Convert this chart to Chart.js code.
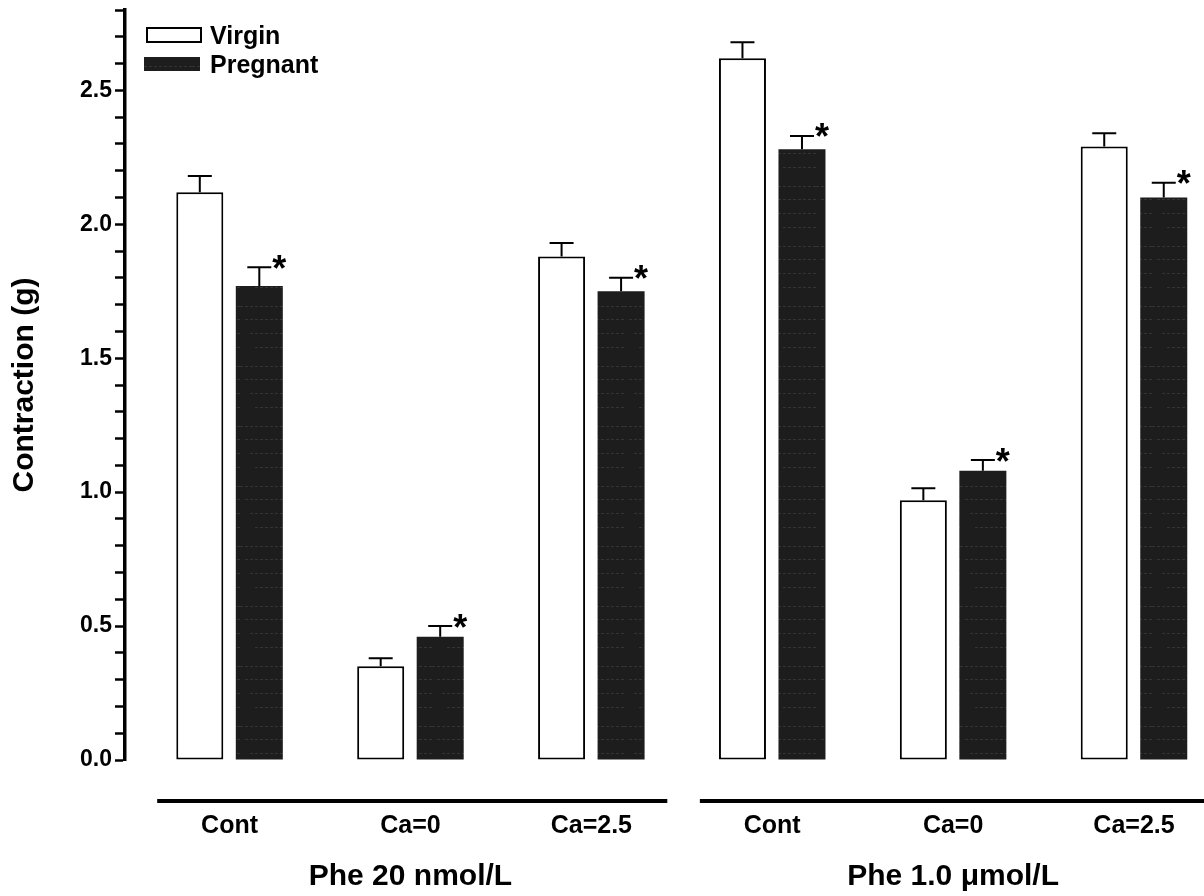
<!DOCTYPE html>
<html>
<head>
<meta charset="utf-8">
<script src="https://cdn.jsdelivr.net/npm/chart.js@4"></script>
<style>
  html, body { margin: 0; padding: 0; background: #fff; overflow: hidden; }
  #wrap { position: relative; width: 1204px; height: 896px; }
</style>
</head>
<body>
<div id="wrap"><canvas id="contractionChart"></canvas></div>
<script>
// 그룹 / 값
const categories = ['Cont', 'Ca=0', 'Ca=2.5', 'Cont', 'Ca=0', 'Ca=2.5'];
const panelTitles = ['Phe 20 nmol/L', 'Phe 1.0 μmol/L'];
const panelRanges = [[0, 2], [3, 5]];
const seriesLabels = ['Virgin', 'Pregnant'];

const virgin = [2.12, 0.35, 1.88, 2.62, 0.97, 2.29];
const virginErr = [0.06, 0.03, 0.05, 0.06, 0.045, 0.05];
const pregnant = [1.77, 0.46, 1.75, 2.28, 1.08, 2.10];
const pregnantErr = [0.07, 0.04, 0.05, 0.05, 0.04, 0.055];
const pregnantSig = [true, true, true, true, true, true];

const yMax = 2.8;
const yMinorStep = 0.1;
const yMajorStep = 0.5;

const FONT = '"Liberation Sans", Arial, Helvetica, sans-serif';

// 임신군 막대용 어두운 패턴 (스캔 질감 흉내)
function makeDarkPattern() {
    const tile = document.createElement('canvas');
    tile.width = 48; tile.height = 60;
    const t = tile.getContext('2d');
    t.fillStyle = '#1d1d1d';
    t.fillRect(0, 0, 48, 60);
    t.strokeStyle = 'rgba(255,255,255,0.10)';
    t.lineWidth = 1;
    t.setLineDash([3, 2]);
    [6, 19, 33, 47].forEach((y, k) => {
        t.beginPath();
        t.moveTo(k * 5, y + 0.5);
        t.lineTo(48, y + 0.5);
        t.stroke();
    });
    return t.createPattern(tile, 'repeat');
}

const toPoints = arr => arr.map((v, i) => ({ x: i, y: v }));

// 오차막대, 별표, 범례, 패널 구분선/제목
const annotate = {
    id: 'annotate',
    afterDatasetsDraw(chart) {
        const { ctx, scales: { y } } = chart;
        ctx.save();
        chart.data.datasets.forEach((ds, di) => {
            const meta = chart.getDatasetMeta(di);
            meta.data.forEach((bar, i) => {
                const top = y.getPixelForValue(ds.data[i].y + ds.errors[i]);
                ctx.strokeStyle = '#000';
                ctx.lineWidth = 2;
                ctx.beginPath();
                ctx.moveTo(bar.x, bar.y);
                ctx.lineTo(bar.x, top);
                ctx.moveTo(bar.x - 12, top);
                ctx.lineTo(bar.x + 12, top);
                ctx.stroke();
                if (ds.marks && ds.marks[i]) {
                    ctx.fillStyle = '#000';
                    ctx.font = 'bold 36px ' + FONT;
                    ctx.textAlign = 'center';
                    ctx.textBaseline = 'alphabetic';
                    ctx.fillText('*', bar.x + 20, top - 7 + 0.57 * 36);
                }
            });
        });
        ctx.restore();
    },
    afterDraw(chart) {
        const { ctx, scales: { x } } = chart;
        ctx.save();

        // 범례
        const legendRows = [{ y: 28 }, { y: 57 }];
        chart.data.datasets.forEach((ds, di) => {
            const ry = legendRows[di].y;
            if (di === 0) {
                ctx.fillStyle = '#fff';
                ctx.fillRect(147, ry, 54, 14);
                ctx.strokeStyle = '#000';
                ctx.lineWidth = 2;
                ctx.strokeRect(147, ry, 54, 14);
            } else {
                ctx.fillStyle = ds.backgroundColor;
                ctx.fillRect(144, ry, 56, 14);
            }
            ctx.fillStyle = '#000';
            ctx.font = 'bold 25px ' + FONT;
            ctx.textAlign = 'left';
            ctx.textBaseline = 'alphabetic';
            ctx.fillText(ds.label, 210, ry + 16);
        });

        // 패널 구분선 + 제목
        panelRanges.forEach(([a, b], p) => {
            const x0 = x.getPixelForValue(a - 0.4);
            const x1 = x.getPixelForValue(b + 0.42);
            ctx.fillStyle = '#000';
            ctx.fillRect(x0, 799, x1 - x0, 4);
            ctx.font = 'bold 30px ' + FONT;
            ctx.textAlign = 'center';
            ctx.textBaseline = 'middle';
            ctx.fillText(panelTitles[p], x.getPixelForValue((a + b) / 2), 877);
        });
        ctx.restore();
    }
};

const darkFill = makeDarkPattern();

new Chart(document.getElementById('contractionChart'), {
    type: 'bar',
    data: {
        datasets: [
            {
                label: seriesLabels[0],
                data: toPoints(virgin),
                errors: virginErr,
                backgroundColor: '#fff',
                borderColor: '#000',
                borderWidth: 2,
                borderSkipped: false
            },
            {
                label: seriesLabels[1],
                data: toPoints(pregnant),
                errors: pregnantErr,
                marks: pregnantSig,
                backgroundColor: darkFill,
                borderWidth: 0
            }
        ]
    },
    options: {
        responsive: true,
        maintainAspectRatio: false,
        animation: false,
        categoryPercentage: 0.658,
        barPercentage: 0.79,
        layout: { padding: { top: 10, left: 0, right: 0, bottom: 0 } },
        plugins: { legend: { display: false }, tooltip: { enabled: false } },
        scales: {
            x: {
                type: 'linear',
                offset: false,
                min: -0.578,
                max: 5.387,
                grid: { display: false, drawTicks: false, offset: false },
                border: { display: false },
                afterBuildTicks: s => { s.ticks = categories.map((_, i) => ({ value: i })); },
                afterFit: s => { s.height = 136; s.paddingLeft = 0; s.paddingRight = 0; },
                ticks: {
                    autoSkip: false,
                    maxRotation: 0,
                    padding: 51,
                    color: '#000',
                    font: { family: FONT, size: 25, weight: 'bold' },
                    callback: v => categories[v]
                }
            },
            y: {
                min: 0,
                max: yMax,
                afterBuildTicks: s => {
                    const n = Math.round(yMax / yMinorStep);
                    s.ticks = Array.from({ length: n + 1 }, (_, k) => ({ value: +(k * yMinorStep).toFixed(1) }));
                },
                afterFit: s => { s.width = 125; s.paddingTop = 0; s.paddingBottom = 0; },
                grid: { drawOnChartArea: false, drawTicks: true, tickLength: 10, tickColor: '#000', tickWidth: 2.5 },
                border: { display: true, color: '#000', width: 3.5 },
                ticks: {
                    autoSkip: false,
                    padding: 3,
                    color: '#000',
                    font: { family: FONT, size: 23, weight: 'bold' },
                    callback: v => {
                        const r = v / yMajorStep;
                        return Math.abs(r - Math.round(r)) < 1e-6 ? v.toFixed(1) : '';
                    }
                },
                title: {
                    display: true,
                    text: 'Contraction (g)',
                    color: '#000',
                    padding: { top: 7, bottom: 0 },
                    font: { family: FONT, size: 30, weight: 'bold' }
                }
            }
        }
    },
    plugins: [annotate]
});
</script>
</body>
</html>
